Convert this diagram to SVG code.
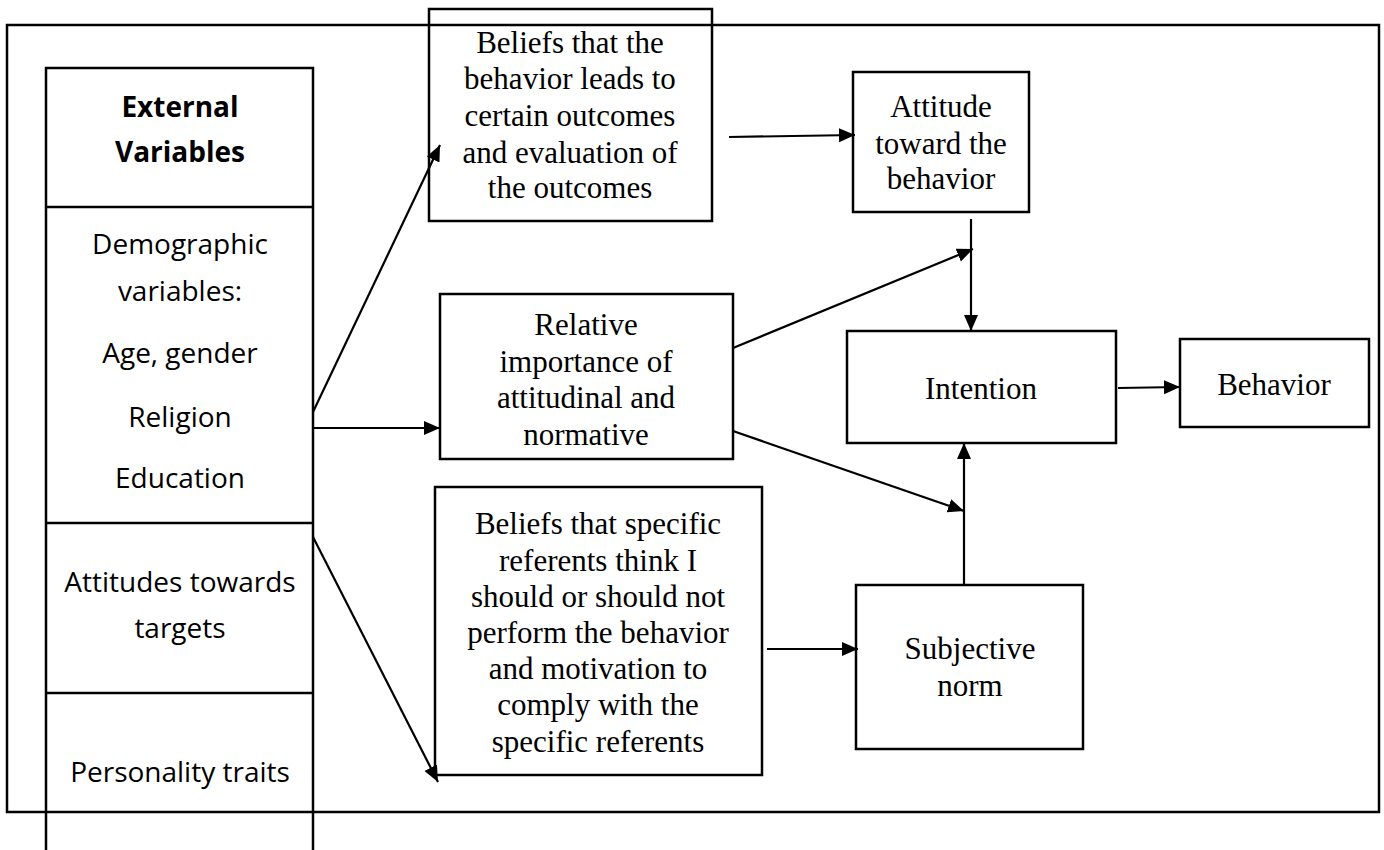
<svg xmlns="http://www.w3.org/2000/svg" width="1384" height="850" viewBox="0 0 1384 850">
<style>
.box{fill:none;stroke:#000;stroke-width:2.5}
.frame{fill:none;stroke:#000;stroke-width:2.5}
.line{fill:none;stroke:#000;stroke-width:2.5}
.conn{fill:none;stroke:#000;stroke-width:2.2;marker-end:url(#ah)}
.serif{font-family:"Liberation Serif","Times New Roman",serif;font-size:31px;fill:#000;text-anchor:middle}
.sans{font-family:"Open Sans","Liberation Sans",sans-serif;font-size:28px;fill:#000;text-anchor:middle}
.bold{font-weight:bold}
</style>
<defs>
<marker id="ah" markerUnits="userSpaceOnUse" markerWidth="17" markerHeight="15" refX="16" refY="7" orient="auto">
<path d="M0,0 L16,7 L0,14 z" fill="#000"/>
</marker>
</defs>
<rect width="1384" height="850" fill="#fff"/>

<g id="external-variables">
<rect class="box" x="46" y="68" width="267" height="800"/>
<line class="line" x1="46" y1="207" x2="313" y2="207"/>
<line class="line" x1="46" y1="523" x2="313" y2="523"/>
<line class="line" x1="46" y1="693" x2="313" y2="693"/>
<text class="sans bold" x="180" y="117">External</text>
<text class="sans bold" x="180" y="162">Variables</text>
<text class="sans" x="180" y="254">Demographic</text>
<text class="sans" x="180" y="301">variables:</text>
<text class="sans" x="180" y="363">Age, gender</text>
<text class="sans" x="180" y="427">Religion</text>
<text class="sans" x="180" y="488">Education</text>
<text class="sans" x="180" y="592">Attitudes towards</text>
<text class="sans" x="180" y="638">targets</text>
<text class="sans" x="180" y="782">Personality traits</text>
</g>

<g id="behavioral-beliefs">
<rect class="box" x="429" y="9" width="283" height="212"/>
<text class="serif" x="570" y="53">Beliefs that the</text>
<text class="serif" x="570" y="89">behavior leads to</text>
<text class="serif" x="570" y="126">certain outcomes</text>
<text class="serif" x="570" y="163">and evaluation of</text>
<text class="serif" x="570" y="198">the outcomes</text>
</g>

<g id="relative-importance">
<rect class="box" x="440" y="294" width="293" height="165"/>
<text class="serif" x="586" y="335">Relative</text>
<text class="serif" x="586" y="372">importance of</text>
<text class="serif" x="586" y="408">attitudinal and</text>
<text class="serif" x="586" y="445">normative</text>
</g>

<g id="normative-beliefs">
<rect class="box" x="435" y="487" width="327" height="288"/>
<text class="serif" x="598" y="534">Beliefs that specific</text>
<text class="serif" x="598" y="571">referents think I</text>
<text class="serif" x="598" y="607">should or should not</text>
<text class="serif" x="598" y="643">perform the behavior</text>
<text class="serif" x="598" y="679">and motivation to</text>
<text class="serif" x="598" y="715">comply with the</text>
<text class="serif" x="598" y="752">specific referents</text>
</g>

<g id="attitude">
<rect class="box" x="853" y="72" width="176" height="140"/>
<text class="serif" x="941" y="117">Attitude</text>
<text class="serif" x="941" y="154">toward the</text>
<text class="serif" x="941" y="189">behavior</text>
</g>

<g id="intention">
<rect class="box" x="847" y="331" width="269" height="112"/>
<text class="serif" x="981" y="399">Intention</text>
</g>

<g id="behavior">
<rect class="box" x="1180" y="339" width="189" height="88"/>
<text class="serif" x="1274" y="395">Behavior</text>
</g>

<g id="subjective-norm">
<rect class="box" x="856" y="585" width="227" height="164"/>
<text class="serif" x="970" y="659">Subjective</text>
<text class="serif" x="970" y="696">norm</text>
</g>

<rect class="frame" x="7" y="25" width="1372" height="787"/>

<g id="connectors">
<line class="conn" x1="313" y1="412" x2="440" y2="145"/>
<line class="conn" x1="313" y1="428" x2="440" y2="428"/>
<line class="conn" x1="313" y1="537" x2="438" y2="782"/>
<line class="conn" x1="729" y1="137" x2="855" y2="135"/>
<line class="conn" x1="971" y1="219" x2="971" y2="331"/>
<line class="conn" x1="733" y1="348" x2="973" y2="249"/>
<line class="conn" x1="733" y1="431" x2="964" y2="511"/>
<line class="conn" x1="964" y1="584" x2="964" y2="443"/>
<line class="conn" x1="767" y1="649" x2="858" y2="649"/>
<line class="conn" x1="1118" y1="388" x2="1180" y2="387"/>
</g>
</svg>
